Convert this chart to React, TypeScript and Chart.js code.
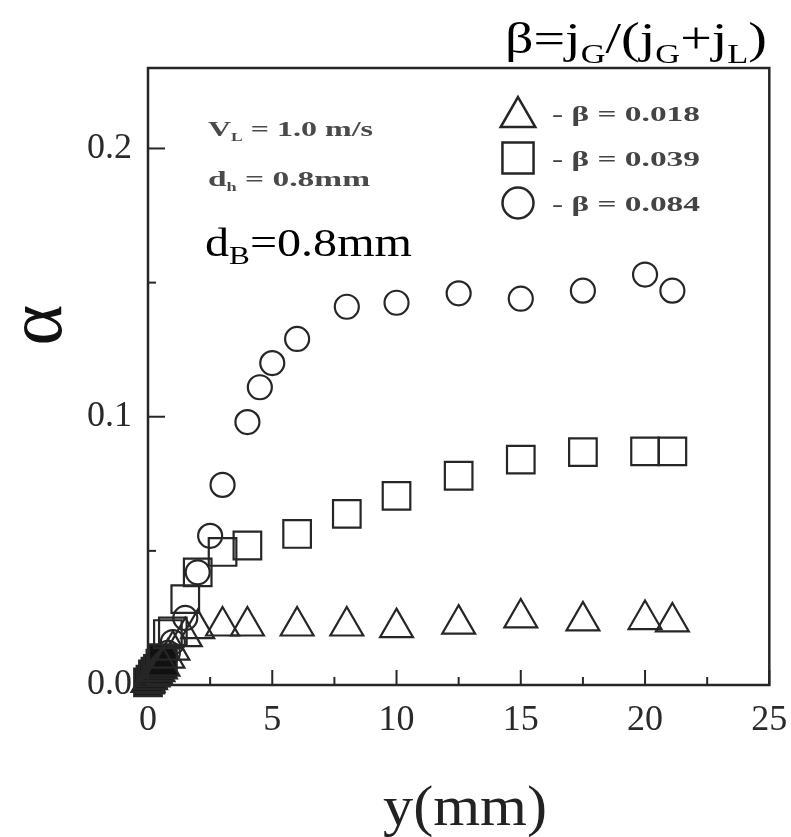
import React, { useEffect, useRef } from 'react';
import { Chart, registerables } from 'chart.js';

Chart.register(...registerables);

// ---- data (x = y(mm), y = alpha) ----
const triangleX = [0, 0.1, 0.2, 0.3, 0.4, 0.5, 0.6, 0.8, 1.0, 1.5, 2.0, 3.0, 4.0, 6.0, 8.0, 10.0, 12.5, 15.0, 17.5, 20.0, 21.1];
const triangleY = [0.001, 0.002, 0.003, 0.004, 0.005, 0.006, 0.007, 0.010, 0.013, 0.018, 0.021, 0.022, 0.022, 0.022, 0.022, 0.0214, 0.0227, 0.025, 0.0239, 0.0244, 0.0235];

const squareX = [0, 0.1, 0.2, 0.3, 0.4, 0.5, 0.6, 0.8, 1.0, 1.5, 2.0, 3.0, 4.0, 6.0, 8.0, 10.0, 12.5, 15.0, 17.5, 20.0, 21.1];
const squareY = [0.001, 0.002, 0.004, 0.005, 0.006, 0.008, 0.010, 0.019, 0.02, 0.032, 0.042, 0.0496, 0.052, 0.0563, 0.0638, 0.0705, 0.078, 0.084, 0.0868, 0.0871, 0.0871];

const circleX = [0, 0.1, 0.2, 0.3, 0.4, 0.5, 0.6, 0.8, 1.0, 1.5, 2.0, 2.5, 3.0, 4.0, 4.5, 5.0, 6.0, 8.0, 10.0, 12.5, 15.0, 17.5, 20.0, 21.1];
const circleY = [0.001, 0.002, 0.003, 0.004, 0.006, 0.007, 0.009, 0.012, 0.016, 0.025, 0.042, 0.0556, 0.0746, 0.098, 0.111, 0.120, 0.129, 0.141, 0.1425, 0.146, 0.144, 0.147, 0.153, 0.147];

const seriesLabels = ['- β = 0.018', '- β = 0.039', '- β = 0.084'];
const seriesStyles = ['triangle', 'rect', 'circle'];

const xMin = 0;
const xMax = 25;
const xStep = 5;
const xMinorStep = 2.5;
const yMin = 0;
const yMax = 0.23;
const yStep = 0.1;
const yMinorStep = 0.05;

const SERIF = '"Liberation Serif", "Times New Roman", serif';
const INK = '#262626';

type Part = { t: string; size: number; dy?: number; bold?: boolean };

function richWidth(ctx: CanvasRenderingContext2D, parts: Part[]) {
  let w = 0;
  for (const p of parts) {
    ctx.font = `${p.bold ? 'bold ' : ''}${p.size}px ${SERIF}`;
    w += ctx.measureText(p.t).width;
  }
  return w;
}

function drawRichFit(ctx: CanvasRenderingContext2D, parts: Part[], x0: number, x1: number, baseline: number, color: string) {
  const w = richWidth(ctx, parts);
  ctx.save();
  ctx.translate(x0, baseline);
  ctx.scale((x1 - x0) / w, 1);
  ctx.fillStyle = color;
  ctx.textAlign = 'left';
  ctx.textBaseline = 'alphabetic';
  let x = 0;
  for (const p of parts) {
    ctx.font = `${p.bold ? 'bold ' : ''}${p.size}px ${SERIF}`;
    ctx.fillText(p.t, x, p.dy || 0);
    x += ctx.measureText(p.t).width;
  }
  ctx.restore();
}

function drawMarker(ctx: CanvasRenderingContext2D, style: string, cx: number, cy: number, r: number) {
  ctx.beginPath();
  if (style === 'triangle') {
    const h = r * Math.sqrt(3) / 2;
    ctx.moveTo(cx, cy - r);
    ctx.lineTo(cx + h, cy + r / 2);
    ctx.lineTo(cx - h, cy + r / 2);
    ctx.closePath();
  } else if (style === 'rect') {
    const s = r * Math.SQRT1_2;
    ctx.rect(cx - s, cy - s, 2 * s, 2 * s);
  } else {
    ctx.arc(cx, cy, r, 0, Math.PI * 2);
  }
  ctx.stroke();
}

const decorPlugin = {
  id: 'decor',
  afterDraw(chart: any) {
    const { ctx, chartArea } = chart;
    const { left, top, right, bottom } = chartArea;
    const xs = chart.scales.x;
    const ys = chart.scales.y;
    ctx.save();
    // frame
    ctx.strokeStyle = INK;
    ctx.lineWidth = 2.5;
    ctx.strokeRect(left, top, right - left, bottom - top);
    // inward ticks
    ctx.lineWidth = 2;
    for (let v = xMin; v <= xMax + 1e-9; v += xMinorStep) {
      const major = Math.abs(v / xStep - Math.round(v / xStep)) < 1e-6;
      const px = xs.getPixelForValue(v);
      ctx.beginPath();
      ctx.moveTo(px, bottom);
      ctx.lineTo(px, bottom - (major ? 15 : 8));
      ctx.stroke();
    }
    for (let v = yMin; v <= yMax + 1e-9; v += yMinorStep) {
      const major = Math.abs(v / yStep - Math.round(v / yStep)) < 1e-6;
      const py = ys.getPixelForValue(v);
      ctx.beginPath();
      ctx.moveTo(left, py);
      ctx.lineTo(left + (major ? 17 : 8), py);
      ctx.stroke();
    }
    // legend
    const legendY = [113, 158, 203];
    const legendR = [20, 22, 15.5];
    ctx.lineWidth = 2.5;
    ctx.strokeStyle = INK;
    for (let i = 0; i < seriesLabels.length; i++) {
      drawMarker(ctx, seriesStyles[i], 518, legendY[i] + (i === 0 ? 4 : 0), legendR[i]);
      drawRichFit(ctx, [{ t: seriesLabels[i], size: 22, bold: true }], 552, 700, legendY[i] + 8, '#444');
    }
    // annotations
    drawRichFit(ctx, [
      { t: 'V', size: 22, bold: true },
      { t: 'L', size: 12, dy: 5, bold: true },
      { t: ' = 1.0 m/s', size: 22, bold: true },
    ], 208, 373, 136, '#4a4a4a');
    drawRichFit(ctx, [
      { t: 'd', size: 22, bold: true },
      { t: 'h', size: 12, dy: 5, bold: true },
      { t: ' = 0.8mm', size: 22, bold: true },
    ], 208, 370, 186, '#4a4a4a');
    drawRichFit(ctx, [
      { t: 'd', size: 40 },
      { t: 'B', size: 26, dy: 8 },
      { t: '=0.8mm', size: 40 },
    ], 205, 412, 256, '#000');
    // top-right title
    drawRichFit(ctx, [
      { t: 'β=j', size: 44 },
      { t: 'G', size: 27, dy: 10 },
      { t: '/(j', size: 44 },
      { t: 'G', size: 27, dy: 10 },
      { t: '+j', size: 44 },
      { t: 'L', size: 27, dy: 10 },
      { t: ')', size: 44 },
    ], 505, 767, 53, '#000');
    // x title
    drawRichFit(ctx, [{ t: 'y(mm)', size: 56 }], 383, 547, 825, '#222');
    // y title (rotated alpha)
    ctx.save();
    ctx.translate(41, 325);
    ctx.rotate(-Math.PI / 2);
    ctx.fillStyle = '#111';
    ctx.font = `78px ${SERIF}`;
    ctx.textAlign = 'center';
    ctx.textBaseline = 'middle';
    ctx.fillText('α', 0, 0);
    ctx.restore();
    ctx.restore();
  },
};

function makeData(xs: number[], ys: number[]) {
  return xs.map((x, i) => ({ x, y: ys[i] }));
}

const fillNearOrigin = (c: any) => (c.raw && c.raw.x <= 0.6 ? '#111' : 'rgba(0,0,0,0)');

export default function App() {
  const ref = useRef<HTMLCanvasElement>(null);
  useEffect(() => {
    if (!ref.current) return;
    const chart = new Chart(ref.current, {
      type: 'scatter',
      data: {
        datasets: [
          {
            label: seriesLabels[0],
            data: makeData(triangleX, triangleY),
            pointStyle: 'triangle',
            pointRadius: 19,
            borderColor: INK,
            pointBorderWidth: 2.2,
            pointBackgroundColor: fillNearOrigin,
            clip: false,
          },
          {
            label: seriesLabels[1],
            data: makeData(squareX, squareY),
            pointStyle: 'rect',
            pointRadius: 19.5,
            borderColor: INK,
            pointBorderWidth: 2.2,
            pointBackgroundColor: fillNearOrigin,
            clip: false,
          },
          {
            label: seriesLabels[2],
            data: makeData(circleX, circleY),
            pointStyle: 'circle',
            pointRadius: 12,
            borderColor: INK,
            pointBorderWidth: 2.2,
            pointBackgroundColor: fillNearOrigin,
            clip: false,
          },
        ],
      },
      options: {
        responsive: false,
        animation: false,
        events: [],
        layout: { padding: { left: 0, top: 68, right: 21, bottom: 0 } },
        plugins: { legend: { display: false }, title: { display: false }, tooltip: { enabled: false } },
        scales: {
          x: {
            type: 'linear',
            min: xMin,
            max: xMax,
            ticks: { stepSize: xStep, color: '#2a2a2a', font: { family: SERIF, size: 36 }, padding: 14, maxRotation: 0 },
            grid: { display: false, drawTicks: false },
            border: { display: false },
            afterFit: (s: any) => { s.height = 152; s.paddingLeft = 0; s.paddingRight = 0; },
          },
          y: {
            type: 'linear',
            min: yMin,
            max: yMax,
            ticks: {
              stepSize: yStep,
              color: '#2a2a2a',
              font: { family: SERIF, size: 36 },
              padding: 16,
              callback: (v: any) => (Number(v)).toFixed(1),
            },
            afterBuildTicks: (s: any) => {
              s.ticks = s.ticks.filter((t: any) => Math.abs(t.value / yStep - Math.round(t.value / yStep)) < 1e-6);
            },
            grid: { display: false, drawTicks: false },
            border: { display: false },
            afterFit: (s: any) => { s.width = 148; s.paddingTop = 0; s.paddingBottom = 0; },
          },
        },
      },
      plugins: [decorPlugin],
    });
    return () => chart.destroy();
  }, []);
  return (
    <div style={{ position: 'absolute', left: 0, top: 0, width: 791, height: 837, background: '#fff' }}>
      <canvas ref={ref} width={791} height={837} style={{ display: 'block' }} />
    </div>
  );
}
